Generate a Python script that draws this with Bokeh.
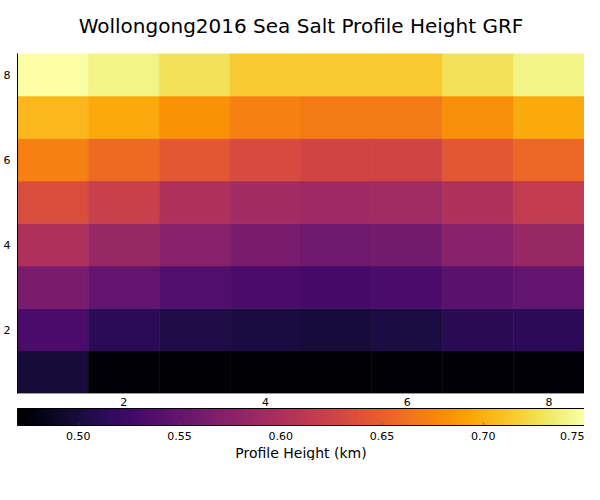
from bokeh.plotting import figure
from bokeh.models import (ColumnDataSource, Range1d, FixedTicker, ColorBar,
                          LinearColorMapper, Title, PrintfTickFormatter)
from bokeh.palettes import Inferno256
from bokeh.transform import transform
from bokeh.embed import file_html
from bokeh.resources import INLINE

# Grid values (rows from y=1 at bottom to y=8 at top; columns x=1..8)
xs = [1, 2, 3, 4, 5, 6, 7, 8]
ys = [1, 2, 3, 4, 5, 6, 7, 8]
row1 = [0.498, 0.473, 0.470, 0.470, 0.471, 0.473, 0.474, 0.474]
row2 = [0.532, 0.512, 0.504, 0.501, 0.499, 0.502, 0.511, 0.513]
row3 = [0.565, 0.548, 0.537, 0.532, 0.529, 0.532, 0.543, 0.548]
row4 = [0.602, 0.585, 0.574, 0.565, 0.557, 0.560, 0.574, 0.585]
row5 = [0.635, 0.621, 0.602, 0.593, 0.590, 0.591, 0.602, 0.616]
row6 = [0.672, 0.658, 0.644, 0.632, 0.627, 0.627, 0.644, 0.655]
row7 = [0.705, 0.697, 0.683, 0.672, 0.669, 0.669, 0.680, 0.697]
row8 = [0.750, 0.741, 0.729, 0.715, 0.714, 0.714, 0.729, 0.741]
rows = [row1, row2, row3, row4, row5, row6, row7, row8]

axis_ticks = [2, 4, 6, 8]
cbar_ticks = [0.50, 0.55, 0.60, 0.65, 0.70, 0.75]
cbar_low = 0.47
cbar_high = 0.75

xx, yy, vv = [], [], []
for j, r in enumerate(rows):
    for i, v in enumerate(r):
        xx.append(xs[i])
        yy.append(ys[j])
        vv.append(v)
src = ColumnDataSource(dict(x=xx, y=yy, v=vv))

mapper = LinearColorMapper(palette=Inferno256, low=cbar_low, high=cbar_high)

p = figure(width=584, height=460, output_backend="svg", toolbar_location=None,
           x_range=Range1d(0.5, 8.5), y_range=Range1d(0.5, 8.5),
           min_border_left=0, min_border_right=0, min_border_top=0,
           min_border_bottom=0)
p.title.text = "Wollongong2016 Sea Salt Profile Height GRF"
p.title.align = "center"
p.title.vertical_align = "top"
p.title.text_font = "DejaVu Sans"
p.title.text_font_size = "20px"
p.title.text_font_style = "normal"
p.title.text_color = "black"
p.title.offset = 0
p.title.standoff = 27

p.rect(x="x", y="y", width=1, height=1, source=src,
       fill_color=transform("v", mapper),
       line_color=transform("v", mapper), line_width=0.6)

p.xgrid.visible = False
p.ygrid.visible = False
p.outline_line_color = None

for ax in (p.xaxis[0], p.yaxis[0]):
    ax.ticker = FixedTicker(ticks=axis_ticks)
    ax.major_tick_out = 0
    ax.major_tick_in = 0
    ax.minor_tick_out = 0
    ax.minor_tick_in = 0
    ax.major_label_text_font = "DejaVu Sans"
    ax.major_label_text_font_size = "11px"
    ax.major_label_text_color = "black"
    ax.axis_line_color = "black"
p.xaxis[0].axis_line_color = "#999999"
p.yaxis[0].major_label_standoff = 7
p.xaxis[0].major_label_standoff = 4

cb = ColorBar(color_mapper=mapper, orientation="horizontal", width="auto",
              height=17, padding=0, margin=3,
              ticker=FixedTicker(ticks=cbar_ticks),
              formatter=PrintfTickFormatter(format="%.2f"),
              major_label_text_font="DejaVu Sans",
              major_label_text_font_size="11px",
              major_label_text_color="black",
              major_tick_line_color="#555555", major_tick_line_alpha=0.6,
              major_tick_in=3, major_tick_out=0,
              minor_tick_line_color=None,
              bar_line_color="black", bar_line_width=1,
              label_standoff=6, background_fill_alpha=0)
p.add_layout(cb, "below")

lab = Title(text="Profile Height (km)", align="center",
            text_font="DejaVu Sans", text_font_size="14px",
            text_font_style="normal", text_color="black",
            offset=0, standoff=0)
p.add_layout(lab, "below")

open("out.html", "w").write(file_html(p, INLINE))
